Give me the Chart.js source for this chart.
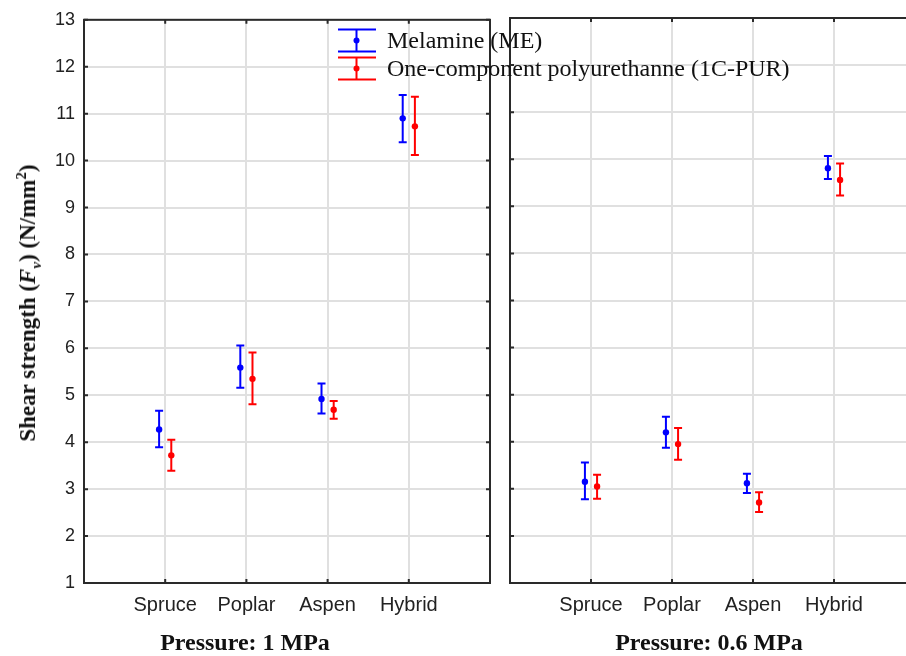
<!DOCTYPE html>
<html><head><meta charset="utf-8">
<script src="https://cdn.jsdelivr.net/npm/chart.js@4/dist/chart.umd.min.js"></script>
<style>
html,body{margin:0;padding:0;background:#fff;overflow:hidden;width:906px;height:656px;position:relative}
#c1{position:absolute;left:0;top:0}
#c2{position:absolute;left:500px;top:0}
#yt{position:absolute;left:28px;top:303px;transform:translate(-50%,-50%) rotate(-90deg);font:bold 23px "Liberation Serif";white-space:nowrap;color:#111}
#yt sub,#yt sup{font-size:15px;line-height:0}
.lg{position:absolute;font:24px "Liberation Serif";line-height:24px;color:#111;white-space:nowrap}
.ls{position:absolute}
</style></head>
<body>
<canvas id="c1" width="500" height="656"></canvas>
<canvas id="c2" width="425" height="656"></canvas>
<div id="yt">Shear strength (<i>F</i><sub><i>v</i></sub>) (N/mm<sup>2</sup>)</div>
<svg class="ls" style="left:337px;top:28px" width="40" height="26"><g stroke="#0000ff" stroke-width="2"><line x1="1" y1="1.5" x2="39" y2="1.5"/><line x1="1" y1="23.5" x2="39" y2="23.5"/><line x1="19.5" y1="1.5" x2="19.5" y2="23.5"/></g><circle cx="19.5" cy="12.5" r="3" fill="#0000ff"/></svg>
<svg class="ls" style="left:337px;top:56px" width="40" height="26"><g stroke="#ff0000" stroke-width="2"><line x1="1" y1="1.5" x2="39" y2="1.5"/><line x1="1" y1="23.5" x2="39" y2="23.5"/><line x1="19.5" y1="1.5" x2="19.5" y2="23.5"/></g><circle cx="19.5" cy="12.5" r="3" fill="#ff0000"/></svg>
<div class="lg" style="left:387px;top:28px">Melamine (ME)</div>
<div class="lg" style="left:387px;top:56px">One-component polyurethanne (1C-PUR)</div>
<script>
const categories = ['Spruce', 'Poplar', 'Aspen', 'Hybrid'];
const yTicks = [1,2,3,4,5,6,7,8,9,10,11,12,13];
const seriesNames = ['Melamine (ME)', 'One-component polyurethanne (1C-PUR)'];
// Pressure 1 MPa
const me1Mean = [4.27, 5.59, 4.92, 10.90];
const me1Low  = [3.89, 5.16, 4.61, 10.39];
const me1High = [4.67, 6.06, 5.25, 11.40];
const pur1Mean = [3.72, 5.35, 4.69, 10.73];
const pur1Low  = [3.39, 4.81, 4.50, 10.12];
const pur1High = [4.05, 5.91, 4.88, 11.36];
// Pressure 0.6 MPa
const me06Mean = [3.15, 4.20, 3.12, 9.81];
const me06Low  = [2.78, 3.87, 2.91, 9.58];
const me06High = [3.56, 4.53, 3.32, 10.07];
const pur06Mean = [3.05, 3.95, 2.71, 9.56];
const pur06Low  = [2.79, 3.62, 2.51, 9.23];
const pur06High = [3.30, 4.29, 2.93, 9.91];

const BLUE = '#0000ff', RED = '#ff0000';
const OFF = 0.075;

function pts(mean, low, high, off) {
  return mean.map((v, i) => ({x: i + 1 + off, y: v, lo: low[i], hi: high[i]}));
}

const errorBars = {
  id: 'errorBars',
  beforeDatasetsDraw(chart) {
    const {ctx, scales: {x, y}} = chart;
    chart.data.datasets.forEach(ds => {
      ctx.save();
      ctx.strokeStyle = ds.borderColor;
      ctx.lineWidth = 2;
      ds.data.forEach(p => {
        const px = x.getPixelForValue(p.x);
        const lo = y.getPixelForValue(p.lo), hi = y.getPixelForValue(p.hi);
        ctx.beginPath();
        ctx.moveTo(px, lo); ctx.lineTo(px, hi);
        ctx.moveTo(px - 4, lo); ctx.lineTo(px + 4, lo);
        ctx.moveTo(px - 4, hi); ctx.lineTo(px + 4, hi);
        ctx.stroke();
      });
      ctx.restore();
    });
  }
};

const frame = {
  id: 'frame',
  afterDatasetsDraw(chart) {
    const {ctx, chartArea: a, scales: {x, y}} = chart;
    ctx.save();
    ctx.strokeStyle = '#2a2a2a';
    ctx.lineWidth = 2;
    ctx.strokeRect(a.left, a.top, a.right - a.left, a.bottom - a.top);
    ctx.beginPath();
    yTicks.forEach(t => {
      const py = y.getPixelForValue(t);
      ctx.moveTo(a.left, py); ctx.lineTo(a.left + 4, py);
      ctx.moveTo(a.right, py); ctx.lineTo(a.right - 4, py);
    });
    categories.forEach((c, i) => {
      const px = x.getPixelForValue(i + 1);
      ctx.moveTo(px, a.bottom); ctx.lineTo(px, a.bottom - 4);
      ctx.moveTo(px, a.top); ctx.lineTo(px, a.top + 4);
    });
    ctx.stroke();
    ctx.restore();
  }
};

function makeChart(id, title, me, pur, showY) {
  return new Chart(document.getElementById(id), {
    type: 'scatter',
    data: {
      datasets: [
        {label: seriesNames[0], data: pts(me[0], me[1], me[2], -OFF), borderColor: BLUE, backgroundColor: BLUE, pointRadius: 3.2, pointBorderWidth: 0},
        {label: seriesNames[1], data: pts(pur[0], pur[1], pur[2], OFF), borderColor: RED, backgroundColor: RED, pointRadius: 3.2, pointBorderWidth: 0}
      ]
    },
    options: {
      responsive: false,
      animation: false,
      events: [],
      layout: {padding: {left: showY ? 0 : 3, right: 10, top: 18, bottom: 0}},
      plugins: {
        legend: {display: false},
        tooltip: {enabled: false},
        title: {display: true, position: 'bottom', text: title, color: '#111',
          font: {family: 'Liberation Serif', size: 24, weight: 'bold', lineHeight: 1.0}, padding: 0}
      },
      scales: {
        x: {
          type: 'linear', min: 0, max: 5,
          afterFit: s => { s.height = 656 - 24 - 583; },
          border: {display: false},
          grid: {color: '#e0e0e0', lineWidth: 2, drawTicks: false},
          ticks: {stepSize: 1, autoSkip: false, maxRotation: 0, padding: 10, color: '#222',
            font: {family: 'Liberation Sans', size: 20},
            callback: v => categories[v - 1] || ''}
        },
        y: {
          min: 1, max: 13,
          afterFit: s => { s.width = showY ? 84 : 0; },
          border: {display: false},
          grid: {color: '#e0e0e0', lineWidth: 2, drawTicks: false},
          ticks: {display: showY, stepSize: 1, padding: 9, color: '#222',
            font: {family: 'Liberation Sans', size: 18}}
        }
      }
    },
    plugins: [errorBars, frame]
  });
}

makeChart('c1', 'Pressure: 1 MPa', [me1Mean, me1Low, me1High], [pur1Mean, pur1Low, pur1High], true);
makeChart('c2', 'Pressure: 0.6 MPa', [me06Mean, me06Low, me06High], [pur06Mean, pur06Low, pur06High], false);
</script>
</body></html>
